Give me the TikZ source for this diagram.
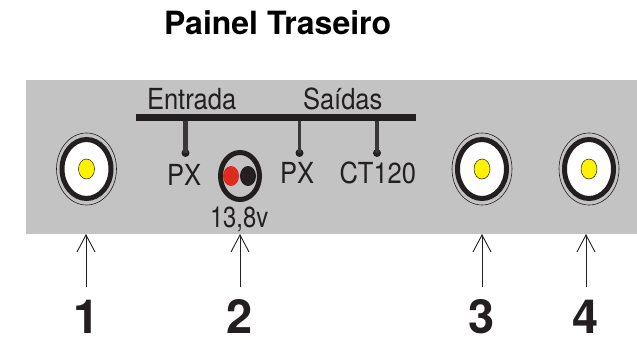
\documentclass[tikz,border=0pt]{standalone}
\usepackage{fontspec}
\setmainfont{TeX Gyre Heros}
\usetikzlibrary{shapes.geometric,arrows.meta}
\definecolor{ink}{HTML}{231F20}
\definecolor{panel}{HTML}{C3C3C3}
\definecolor{stemc}{HTML}{3A3837}
\definecolor{plugred}{HTML}{DF2A1F}
\definecolor{pinyellow}{HTML}{FFF200}
\tikzset{
  oval/.style={shape=ellipse,inner sep=0pt,outer sep=0pt},
  jackouter/.style={oval,draw=ink,line width=.6pt,fill=panel,minimum width=60pt,minimum height=72pt},
  jackring/.style={oval,draw=ink,line width=5pt,fill=white,minimum width=49pt,minimum height=59pt},
  jackpin/.style={oval,draw=ink,line width=.5pt,fill=pinyellow,minimum width=16pt,minimum height=20pt},
  dot/.style={circle,fill=ink,inner sep=0pt,outer sep=0pt,minimum size=8pt},
  stem/.style={draw=stemc,line width=4.4pt},
  thinstem/.style={draw=stemc,line width=3.2pt},
  lab/.style={inner sep=0pt,outer sep=0pt,text=ink,anchor=base west},
  big/.style={lab,font=\fontsize{29}{29}\selectfont},
  num/.style={inner sep=0pt,outer sep=0pt,text=ink,anchor=base,font=\fontsize{47}{47}\selectfont\bfseries},
  pointer/.style={draw=ink,line width=.9pt,-{Straight Barb[length=17pt,width=18pt,line width=.9pt]}}
}
\newcommand{\nar}[1]{\scalebox{.88}[1]{#1}}
\begin{document}
\begin{tikzpicture}[x=1pt,y=-1pt]
\useasboundingbox (0,0) rectangle (637,338);
\node[lab,font=\fontsize{32}{32}\selectfont\bfseries,text=black] (title) at (164,34) {Painel Traseiro};
\node[shape=rectangle,fill=panel,inner sep=0pt,minimum width=611pt,minimum height=153.5pt,anchor=north west] (panelbox) at (26,80) {};

\node[big] (entrada) at (147,109) {\nar{Entrada}};
\node[big] (saidas) at (303,109) {\nar{Saídas}};
\node[shape=rectangle,fill=ink,inner sep=0pt,minimum width=280pt,minimum height=7pt,anchor=north west] (bar) at (136,114) {};

\node[dot] (d1) at (185.5,153) {};
\node[dot] (d2) at (299.5,153) {};
\node[dot] (d3) at (377,153) {};
\coordinate (t1) at (185.5,121);
\coordinate (t2) at (299.5,121);
\coordinate (t3) at (377,121);
\draw[stem] (t1) -- (d1.center);
\draw[thinstem] (t2) -- (d2.center);
\draw[stem] (t3) -- (d3.center);

\node[big] (px1) at (167,185) {\nar{PX}};
\node[big] (px2) at (280,183) {\nar{PX}};
\node[big] (ct) at (339.5,183) {\nar{CT120}};
\node[lab,font=\fontsize{29}{29}\selectfont] (volt) at (210,227) {\scalebox{.82}[1]{13,8v}};

\node[jackouter] (j1o) at (86.5,169) {};
\node[jackring] (j1r) at (86.5,169) {};
\node[jackpin] (j1p) at (86.5,169) {};
\node[jackouter] (j3o) at (482,169) {};
\node[jackring] (j3r) at (482,169) {};
\node[jackpin] (j3p) at (482,169) {};
\node[jackouter] (j4o) at (589,169) {};
\node[jackring] (j4r) at (589,169) {};
\node[jackpin] (j4p) at (589,169) {};

\node[oval,draw=ink,line width=5pt,minimum width=39pt,minimum height=47pt] (pw) at (240,176) {};
\node[oval,fill=plugred,minimum width=16pt,minimum height=20pt] (pwr) at (231,176) {};
\node[oval,fill=ink,minimum width=16pt,minimum height=20pt] (pwb) at (248,176) {};

\node[num] (n1) at (86.5,333) {1};
\node[num] (n2) at (239.5,333) {2};
\node[num] (n3) at (482,333) {3};
\node[num] (n4) at (586,333) {4};

\coordinate (a1) at (86,287);
\coordinate (a2) at (240,287);
\coordinate (a3) at (482,287);
\coordinate (a4) at (586,287);
\coordinate (b1) at (86,234);
\coordinate (b2) at (240,234);
\coordinate (b3) at (482,234);
\coordinate (b4) at (586,234);
\draw[pointer] (a1) -- (b1);
\draw[pointer] (a2) -- (b2);
\draw[pointer] (a3) -- (b3);
\draw[pointer] (a4) -- (b4);
\end{tikzpicture}
\end{document}
